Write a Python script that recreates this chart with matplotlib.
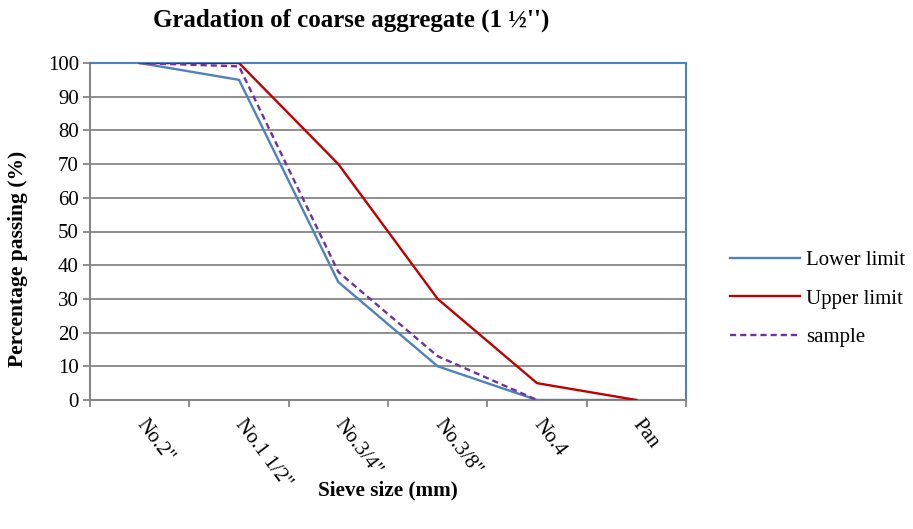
import numpy as np
import matplotlib.pyplot as plt
from matplotlib.ticker import FixedLocator

# Données de granulométrie
sieves = ['No.2"', 'No.1 1/2"', 'No.3/4"', 'No.3/8"', 'No.4', 'Pan']
lower_limit = [100, 95, 35, 10, 0, 0]
upper_limit = [100, 100, 70, 30, 5, 0]
sample = [100, 99, 38, 13, 0, np.nan]

plt.rcParams['font.family'] = ['Liberation Serif', 'DejaVu Serif']

fig = plt.figure(figsize=(9.13, 5.29), dpi=100)
ax = fig.add_axes([90 / 913, 1 - 400 / 529, 596 / 913, 337 / 529])

x = np.arange(len(sieves))
ax.plot(x, lower_limit, color='#4F81BD', lw=1.7, label='Lower limit', zorder=3)
ax.plot(x, upper_limit, color='#C00000', lw=1.7, label='Upper limit', zorder=3)
ax.plot(x, sample, color='#7030A0', lw=1.7, ls=(0, (2.6, 1.7)), label='sample', zorder=4)

ax.set_xlim(-0.5, len(sieves) - 0.5)
ax.set_ylim(0, 100)
ax.set_yticks(range(0, 101, 10))
ax.grid(axis='y', color='#868686', lw=1.3, zorder=1)

# ticks aux limites des catégories, étiquettes au centre
ax.xaxis.set_major_locator(FixedLocator(np.arange(-0.5, len(sieves), 1)))
ax.set_xticklabels([])
ax.set_xticks(x, minor=True)
ax.set_xticklabels(sieves, minor=True, rotation=-53, ha='left', va='center',
                   rotation_mode='anchor', fontsize=15)
ax.tick_params(axis='x', which='minor', length=0, pad=15)
ax.tick_params(axis='x', which='major', length=5, color='#868686', width=1.3)
ax.tick_params(axis='y', length=5, color='#868686', width=1.3, labelsize=15, pad=3)

for s in ['left', 'bottom']:
    ax.spines[s].set_color('#868686')
    ax.spines[s].set_linewidth(1.5)
for s in ['top', 'right']:
    ax.spines[s].set_color('#4F81BD')
    ax.spines[s].set_linewidth(1.5)

fig.text(18 / 913, 1 - 259 / 529, 'Percentage passing (%)', fontsize=15.5,
         fontweight='bold', ha='center', va='center', rotation=90)
fig.text(388 / 913, 1 - 490 / 529, 'Sieve size (mm)', fontsize=15.3,
         fontweight='bold', ha='center', va='center')
fig.text(351 / 913, 1 - 20 / 529, "Gradation of coarse aggregate (1 \u00bd'')",
         fontsize=18, fontweight='bold', ha='center', va='center')

fig.legend(loc='center left', bbox_to_anchor=(730 / 913, 1 - 299 / 529),
           frameon=False, fontsize=15, handlelength=3.35, labelspacing=0.9,
           handletextpad=0.3, borderpad=0, borderaxespad=0)

fig.savefig('out.png', dpi=100)
